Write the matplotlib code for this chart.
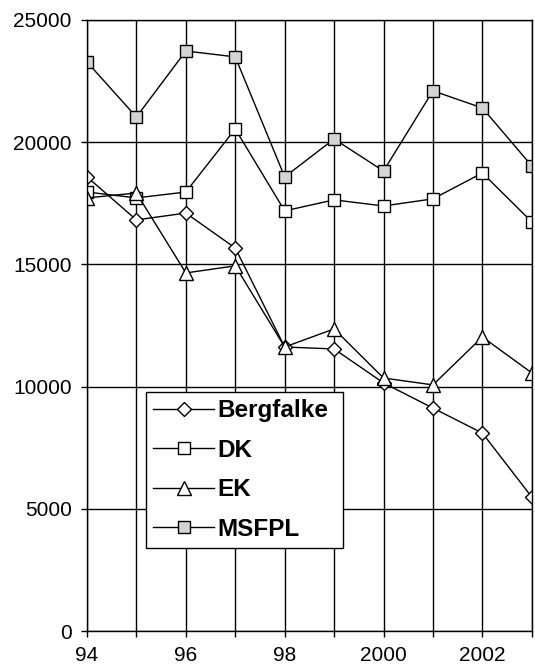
import matplotlib
matplotlib.use("Agg")
import matplotlib.pyplot as plt

years = [1994, 1995, 1996, 1997, 1998, 1999, 2000, 2001, 2002, 2003]
bergfalke = [18580, 16820, 17100, 15670, 11620, 11540, 10150, 9120, 8100, 5480]
dk = [17960, 17720, 17960, 20540, 17190, 17640, 17390, 17680, 18740, 16740]
ek = [17720, 17920, 14650, 14940, 11620, 12360, 10350, 10070, 12030, 10560]
msfpl = [23280, 21030, 23730, 23490, 18580, 20130, 18820, 22100, 21400, 19030]

xtick_pos = [1994, 1996, 1998, 2000, 2002]
xtick_labels = ["94", "96", "98", "2000", "2002"]
ytick_pos = [0, 5000, 10000, 15000, 20000, 25000]
ytick_labels = ["0", "5000", "10000", "15000", "20000", "25000"]

plt.rcParams['font.family'] = ['Liberation Sans', 'DejaVu Sans']

fig = plt.figure(figsize=(5.35, 6.7), dpi=100)
ax = fig.add_axes([0.1626, 0.0582, 0.8314, 0.912])

common = dict(color='black', lw=1.0, markeredgecolor='black', markeredgewidth=1.0)
ax.plot(years, bergfalke, marker='D', markersize=7, markerfacecolor='white', label='Bergfalke', **common)
ax.plot(years, dk, marker='s', markersize=8, markerfacecolor='white', label='DK', **common)
ax.plot(years, ek, marker='^', markersize=10, markerfacecolor='white', label='EK', **common)
ax.plot(years, msfpl, marker='s', markersize=9, markerfacecolor='#d4d4d4', label='MSFPL', **common)

ax.set_xlim(1994, 2003)
ax.set_ylim(0, 25000)
ax.set_xticks(xtick_pos)
ax.set_xticklabels(xtick_labels)
ax.set_xticks(years, minor=True)
ax.set_yticks(ytick_pos)
ax.set_yticklabels(ytick_labels)

ax.grid(True, which='both', axis='x', color='black', lw=1.0)
ax.grid(True, which='major', axis='y', color='black', lw=1.0)
ax.set_axisbelow(True)

ax.tick_params(axis='both', which='both', direction='out', length=4, width=1, labelsize=15)
ax.tick_params(axis='x', which='major', pad=7)
ax.tick_params(axis='y', which='major', pad=7)
for s in ax.spines.values():
    s.set_color('black')
    s.set_linewidth(1.0)

leg = ax.legend(loc='lower left', bbox_to_anchor=(0.133, 0.136, 0.442, 0.273), mode='expand',
                fancybox=False, framealpha=1.0, edgecolor='black',
                prop={'weight': 'bold', 'size': 17.5}, handlelength=2.5,
                handletextpad=0.15, labelspacing=0.68, borderaxespad=0.0, borderpad=0.3)
leg.get_frame().set_linewidth(1.0)

fig.savefig('out.png', dpi=100)
